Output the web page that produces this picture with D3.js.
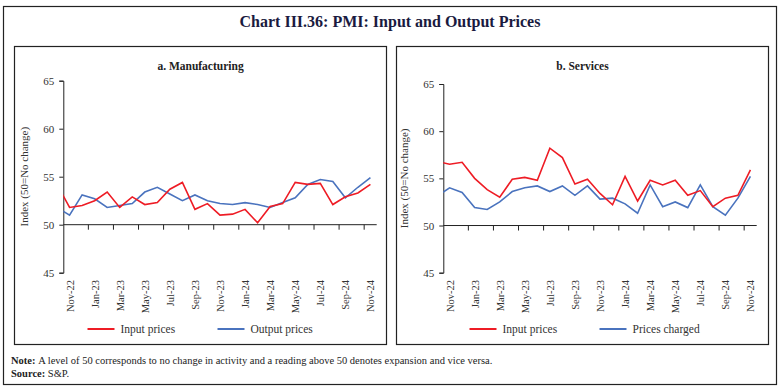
<!DOCTYPE html>
<html>
  <head>
    <meta charset="utf-8">
    <script type="text/javascript" src="https://d3js.org/d3.v7.min.js"></script>
    <style>
      body { margin: 0; background: #fff; }
      text { font-family: "Liberation Serif", "DejaVu Serif", serif; fill: #222; }
    </style>
  </head>
  <body>
  </body>
  <script>

// months, Oct-22 sits just left of the axis and is clipped (as in the original)
var months = ["Oct-22","Nov-22","Dec-22","Jan-23","Feb-23","Mar-23","Apr-23","May-23","Jun-23",
  "Jul-23","Aug-23","Sep-23","Oct-23","Nov-23","Dec-23","Jan-24","Feb-24","Mar-24","Apr-24",
  "May-24","Jun-24","Jul-24","Aug-24","Sep-24","Oct-24","Nov-24"];

var mfgInput  = [54.2,51.8,52.0,52.5,53.4,51.8,52.9,52.1,52.3,53.7,54.4,51.6,52.2,51.0,51.1,51.6,50.2,51.9,52.2,54.4,54.2,54.3,52.1,52.9,53.3,54.2];
var mfgOutput = [51.8,51.0,53.1,52.7,51.8,52.0,52.2,53.4,53.9,53.2,52.5,53.1,52.5,52.2,52.1,52.3,52.1,51.8,52.3,52.8,54.2,54.7,54.5,52.8,53.9,54.9];
var svcInput  = [56.8,56.5,56.7,55.0,53.8,53.0,54.9,55.1,54.8,58.2,57.2,54.4,54.9,53.4,52.2,55.2,52.6,54.8,54.3,54.8,53.2,53.7,52.0,52.9,53.2,55.9];
var svcOutput = [53.1,54.0,53.5,51.9,51.7,52.5,53.6,54.0,54.2,53.6,54.2,53.2,54.2,52.8,52.9,52.3,51.3,54.3,52.0,52.5,51.9,54.3,52.0,51.1,52.9,55.2];

var yTicks = [45,50,55,60,65];
var RED = "#ee1c25", BLUE = "#4a73be";

var svg = d3.select("body").append("svg").attr("width", 781).attr("height", 386);

// outer frame + title
svg.append("rect").attr("x",3.5).attr("y",6.5).attr("width",773).attr("height",378)
  .attr("fill","none").attr("stroke","#222").attr("stroke-width",1.2);
svg.append("text").attr("x",390).attr("y",27).attr("text-anchor","middle")
  .style("font-size","16px").style("font-weight","bold").style("fill","#1a1a40")
  .text("Chart III.36: PMI: Input and Output Prices");

function panel(o){
  var g = svg.append("g");
  g.append("rect").attr("x",o.bx).attr("y",46.5).attr("width",372).attr("height",298)
    .attr("fill","none").attr("stroke","#222").attr("stroke-width",1.2);
  g.append("text").attr("x",o.bx+186).attr("y",70).attr("text-anchor","middle")
    .style("font-size","11.5px").style("font-weight","bold").text(o.title);

  var x = d3.scaleLinear().domain([0.5, 25.5]).range([o.x0, o.x0+313.4]);
  var y = d3.scaleLinear().domain([45,65]).range([272.7, o.ytop]);

  // y axis
  var ya = g.append("g").attr("transform","translate("+o.x0+",0)")
    .call(d3.axisLeft(y).tickValues(yTicks).tickSize(4).tickPadding(5));
  ya.select(".domain").attr("stroke","#222");
  ya.selectAll("line").attr("stroke","#222");
  ya.selectAll("text").style("font-size","11px").style("fill","#333")
    .style("font-family","Liberation Serif, serif");

  g.append("text").attr("transform","translate("+(o.x0-35)+","+((y(65)+y(45))/2)+") rotate(-90)")
    .attr("text-anchor","middle").style("font-size","11px").style("fill","#333")
    .text("Index (50=No change)");

  // x axis at 50, tick every 2 months on category boundaries
  var bounds = d3.range(1, 26, 2).map(function(i){ return i-0.5; });
  var xa = g.append("g").attr("transform","translate(0,"+y(50)+")");
  xa.append("line").attr("x1",x(0.5)).attr("x2",x(25.5)).attr("stroke","#222");
  xa.selectAll(".tk").data(bounds.slice(1)).enter().append("line")
    .attr("x1",function(d){return x(d);}).attr("x2",function(d){return x(d);})
    .attr("y1",0).attr("y2",5).attr("stroke","#222");

  var labIdx = d3.range(1, 26, 2);
  g.selectAll(".xl").data(labIdx).enter().append("text")
    .attr("transform",function(d){ return "translate("+(x(d)+4)+",280) rotate(-90)"; })
    .attr("text-anchor","end").style("font-size","10.5px").style("fill","#333")
    .text(function(d){ return months[d]; });

  // clipped series
  var cid = "clip"+o.id;
  g.append("clipPath").attr("id",cid).append("rect")
    .attr("x",x(0.5)).attr("y",0).attr("width",x(25.5)-x(0.5)).attr("height",386);
  var line = d3.line().x(function(d,i){return x(i);}).y(function(d){return y(d);});
  var pg = g.append("g").attr("clip-path","url(#"+cid+")");
  pg.append("path").datum(o.s2).attr("d",line).attr("fill","none").attr("stroke",BLUE).attr("stroke-width",1.6);
  pg.append("path").datum(o.s1).attr("d",line).attr("fill","none").attr("stroke",RED).attr("stroke-width",1.6);

  // legend
  var leg = [{c:RED,t:o.n1,x:o.bx+73},{c:BLUE,t:o.n2,x:o.bx+203}];
  leg.forEach(function(l){
    g.append("line").attr("x1",l.x).attr("x2",l.x+27).attr("y1",329).attr("y2",329)
      .attr("stroke",l.c).attr("stroke-width",2);
    g.append("text").attr("x",l.x+33).attr("y",332.5).style("font-size","11.5px").style("fill","#333").text(l.t);
  });
}

panel({id:"a", bx:14.5, x0:63.3, ytop:80.7, title:"a. Manufacturing", s1:mfgInput, s2:mfgOutput, n1:"Input prices", n2:"Output prices"});
panel({id:"b", bx:396.5, x0:443.3, ytop:84, title:"b. Services", s1:svcInput, s2:svcOutput, n1:"Input prices", n2:"Prices charged"});

var note = svg.append("text").attr("x",11).attr("y",364).style("font-size","10.5px");
note.append("tspan").style("font-weight","bold").text("Note: ");
note.append("tspan").text("A level of 50 corresponds to no change in activity and a reading above 50 denotes expansion and vice versa.");
var src = svg.append("text").attr("x",11).attr("y",377).style("font-size","10.5px");
src.append("tspan").style("font-weight","bold").text("Source: ");
src.append("tspan").text("S&P.");

  </script>
</html>
